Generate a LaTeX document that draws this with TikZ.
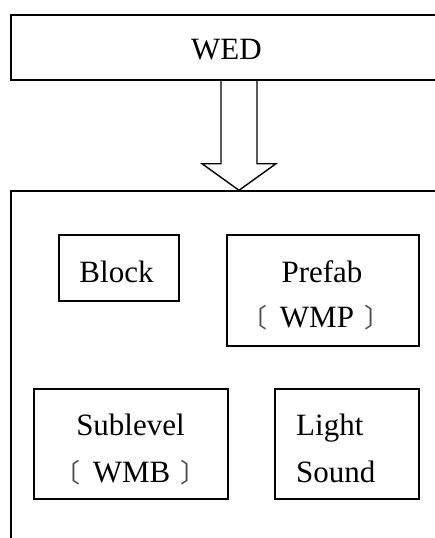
\documentclass[tikz,border=0pt]{standalone}
\usepackage{fontspec}
\usetikzlibrary{calc}
\setmainfont{Liberation Serif}
\newfontfamily\cjk{Noto Sans CJK SC}
\newcommand{\lbr}{{\cjk\fontsize{26}{26}\selectfont\color{black!70}〔}\hspace{12pt}}
\newcommand{\rbr}{\hspace{10pt}{\cjk\fontsize{26}{26}\selectfont\color{black!70}〕}}
\tikzset{
  frame/.style={draw=black, line width=1.4pt, rectangle, inner sep=0pt},
  lbl/.style={inner sep=0pt, font=\fontsize{31}{31}\selectfont},
}
\begin{document}
\begin{tikzpicture}[x=1pt,y=1pt]
\useasboundingbox (0,0) rectangle (435,-538);
\clip (0,0) rectangle (435,-538);
\fill[white] (0,0) rectangle (435,-538);
% outer boxes
\node[frame, minimum width=456pt, minimum height=65pt] (wed) at (239,-47.5) {};
\node[frame, minimum width=456pt, minimum height=409pt] (main) at (239,-395.5) {};
\node[lbl, anchor=base] (wedt) at (226.5,-59) {WED};
% hollow arrow
\draw[line width=1.4pt, line join=miter]
  ($(wed.south)+(-18,0)$) -- ++(0,-83) -- ++(-19,0) -- (main.north)
  -- ($(wed.south)+(37,-83)$) -- ++(-19,0) -- ($(wed.south)+(18,0)$);
% inner boxes
\node[frame, minimum width=120pt, minimum height=66pt] (block) at (119,-268) {};
\node[lbl, anchor=base] (blockt) at (116.5,-282) {Block};
\node[frame, minimum width=192pt, minimum height=111pt] (prefab) at (323,-290.5) {};
\node[lbl, anchor=base] (prefabt) at (322,-282) {Prefab};
\node[lbl, anchor=base] (prefabs) at (316,-327) {\lbr WMP\rbr};
\node[frame, minimum width=194pt, minimum height=110pt] (sub) at (131,-444) {};
\node[lbl, anchor=base] (subt) at (130.5,-435) {Sublevel};
\node[lbl, anchor=base] (subs) at (130.5,-482) {\lbr WMB\rbr};
\node[frame, minimum width=144pt, minimum height=110pt] (light) at (347,-444) {};
\node[lbl, anchor=base west] (lightt) at (296,-435) {Light};
\node[lbl, anchor=base west] (soundt) at (296,-482) {Sound};
\end{tikzpicture}
\end{document}
